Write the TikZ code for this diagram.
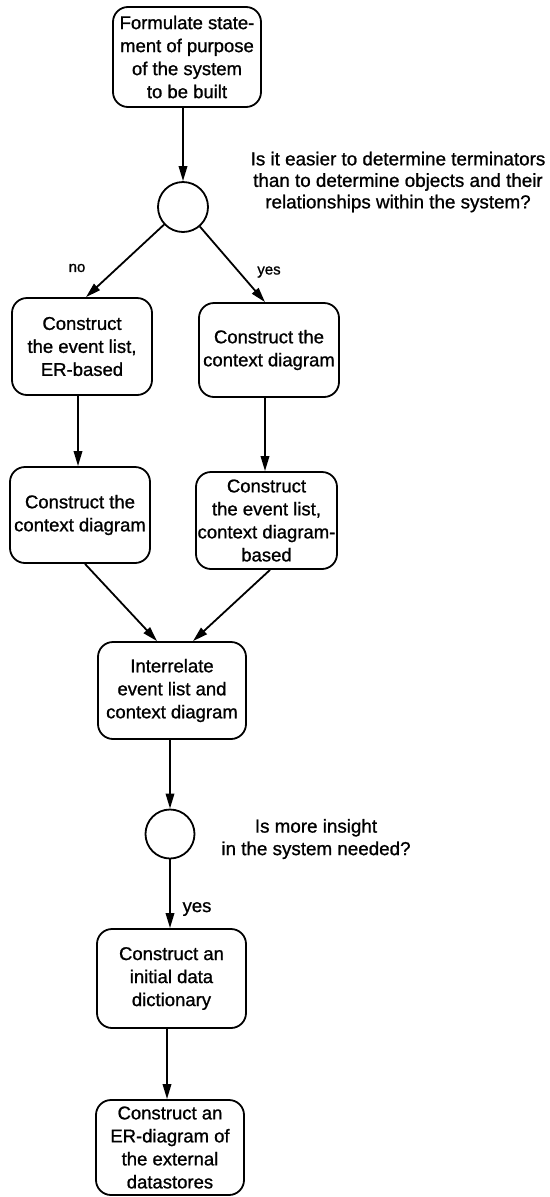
\documentclass[tikz,border=0pt]{standalone}
\usepackage{fontspec}
\setmainfont{Liberation Sans}
\newfontfamily\printfont[FakeBold=1.0]{Liberation Sans}
\usetikzlibrary{arrows.meta}
\begin{document}
\begin{tikzpicture}[x=1pt,y=-1pt,
  stepbox/.style={draw, line width=1.8pt, rounded corners=15pt, align=center,
    inner sep=0pt, font=\printfont\fontsize{18.5}{23}\selectfont},
  decision/.style={draw, circle, line width=1.8pt, inner sep=0pt},
  flow/.style={line width=1.8pt, -{Triangle[length=15pt,width=8.5pt]}},
  question/.style={align=center, font=\printfont\fontsize{18.8}{21.5}\selectfont},
  answer/.style={font=\printfont\fontsize{15}{18}\selectfont}]
\useasboundingbox (0,0) rectangle (549,1197);

% process steps
\node[stepbox, minimum width=148pt, minimum height=100pt] (f) at (187,57)
  {Formulate state-\\ment of purpose\\of the system\\to be built};
\node[decision, minimum size=50pt] (c1) at (183,207) {};
\node[stepbox, minimum width=140pt, minimum height=97pt] (l1) at (82,346.5)
  {Construct\\the event list,\\ER-based};
\node[stepbox, minimum width=140pt, minimum height=94pt] (r1) at (269,350)
  {Construct the\\context diagram};
\node[stepbox, minimum width=140pt, minimum height=96pt] (l2) at (80,515)
  {Construct the\\context diagram};
\node[stepbox, minimum width=141pt, minimum height=97pt] (r2) at (266.5,520.5)
  {Construct\\the event list,\\context diagram-\\based};
\node[stepbox, minimum width=148pt, minimum height=97pt] (m) at (172,690.5)
  {Interrelate\\event list and\\context diagram};
\node[decision, minimum size=49pt] (c2) at (170,834) {};
\node[stepbox, minimum width=149pt, minimum height=99pt] (d) at (171.5,978.5)
  {Construct an\\initial data\\dictionary};
\node[stepbox, minimum width=148pt, minimum height=95pt] (e) at (170,1147.5)
  {Construct an\\ER-diagram of\\the external\\datastores};

% questions at the decision points
\node[question] (q1) at (398,182)
  {Is it easier to determine terminators\\than to determine objects and their\\relationships within the system?};
\node[question, font=\printfont\fontsize{18.8}{22.5}\selectfont] (q2) at (316,839)
  {Is more insight\\in the system needed?};

% branch labels
\node[answer] (no) at (77,268) {no};
\node[answer] (yes1) at (269,272) {yes};
\node[font=\printfont\fontsize{18.5}{22}\selectfont] (yes2) at (197,909) {yes};

% connectors
\draw[flow] (f.south -| c1) -- (c1);
\draw[flow] (c1) -- ([xshift=4pt]l1.north);
\draw[flow] (c1) -- ([xshift=-4pt]r1.north);
\draw[flow] ([xshift=-4pt]l1.south) -- ([xshift=-2pt]l2.north);
\draw[flow] ([xshift=-4pt]r1.south) -- ([xshift=-1.5pt]r2.north);
\draw[flow] ([xshift=5pt]l2.south) -- ([xshift=-15pt]m.north);
\draw[flow] ([xshift=3.5pt]r2.south) -- ([xshift=21pt]m.north);
\draw[flow] (m.south -| c2) -- (c2);
\draw[flow] (c2) -- (d.north -| c2);
\draw[flow] ([xshift=-4.5pt]d.south) -- ([xshift=-3pt]e.north);
\end{tikzpicture}
\end{document}
